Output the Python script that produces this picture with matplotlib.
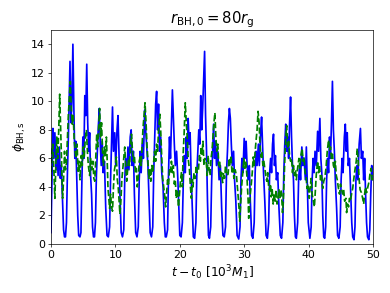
import matplotlib
matplotlib.use("Agg")
import matplotlib.pyplot as plt

# ---- data ----
blue_t = [0.0, 0.15, 0.3, 0.45, 0.6, 0.8, 0.95, 1.1, 1.3, 1.45, 1.6, 1.8, 1.95, 2.1, 2.25,
          2.4, 2.55, 2.7, 2.85, 2.95, 3.1, 3.25, 3.4, 3.55, 3.7, 3.85, 4.0, 4.15, 4.3, 4.5,
          4.65, 4.8, 4.95, 5.1, 5.25, 5.4, 5.55, 5.7, 5.85, 6.0, 6.15, 6.3, 6.45, 6.6, 6.75,
          6.9, 7.05, 7.2, 7.35, 7.5, 7.65, 7.8, 7.95, 8.1, 8.3, 8.5, 8.7, 8.9,
          9.1, 9.25, 9.4, 9.55, 9.7, 9.9, 10.05, 10.25, 10.4, 10.55, 10.7, 10.9, 11.1,
          11.3, 11.45, 11.6, 11.8, 11.95, 12.1, 12.3, 12.45, 12.6, 12.8, 12.95, 13.15, 13.35,
          13.55, 13.7, 13.85, 14.0, 14.2, 14.35, 14.55, 14.7, 14.9, 15.05, 15.2, 15.4, 15.6,
          15.8, 15.95, 16.1, 16.25, 16.4, 16.55, 16.7, 16.85, 17.0, 17.2, 17.4, 17.6, 17.75, 17.9,
          18.1, 18.25, 18.4, 18.55, 18.7, 18.85, 19.0, 19.15, 19.3, 19.5, 19.7, 19.85, 20.0, 20.2,
          20.4, 20.55, 20.7, 20.85, 21.0, 21.15, 21.3, 21.45, 21.6, 21.75, 21.95, 22.1, 22.3,
          22.5, 22.65, 22.8, 22.95, 23.1, 23.25, 23.4, 23.55, 23.7, 23.85, 24.0, 24.15, 24.3, 24.45, 24.6,
          24.8, 24.95, 25.1, 25.25, 25.4, 25.55, 25.7, 25.9, 26.1, 26.3, 26.5, 26.7, 26.9,
          27.1, 27.25, 27.4, 27.55, 27.7, 27.85, 28.0, 28.15, 28.35, 28.5, 28.7, 28.9, 29.15,
          29.35, 29.5, 29.65, 29.8, 30.0, 30.15, 30.3, 30.45, 30.6, 30.8, 30.95, 31.15, 31.35,
          31.55, 31.7, 31.85, 32.0, 32.2, 32.35, 32.55, 32.7, 32.85, 33.0, 33.2, 33.4, 33.6,
          33.8, 33.95, 34.1, 34.25, 34.4, 34.55, 34.7, 34.85, 35.0, 35.2, 35.4, 35.6, 35.8,
          36.0, 36.15, 36.3, 36.45, 36.6, 36.75, 36.9, 37.05, 37.2, 37.35, 37.5, 37.65, 37.8, 37.95, 38.1,
          38.3, 38.45, 38.6, 38.75, 38.95, 39.1, 39.3, 39.5, 39.65, 39.8, 39.95, 40.2,
          40.4, 40.55, 40.7, 40.85, 41.0, 41.2, 41.4, 41.55, 41.75, 41.9, 42.05, 42.2, 42.35, 42.5,
          42.65, 42.8, 42.95, 43.1, 43.25, 43.4, 43.55, 43.7, 43.85, 44.0, 44.15, 44.35, 44.5, 44.7,
          44.9, 45.05, 45.2, 45.35, 45.55, 45.7, 45.85, 46.0, 46.15, 46.35, 46.5, 46.7, 46.85, 47.05,
          47.2, 47.35, 47.5, 47.65, 47.85, 48.05, 48.2, 48.4, 48.55, 48.7, 48.85, 49.0, 49.15, 49.35,
          49.5, 49.65, 49.8, 49.9, 50.0]
blue_phi = [0.8, 4.5, 8.1, 6.0, 7.8, 5.2, 6.5, 4.8, 6.8, 4.6, 5.5, 3.0, 1.0, 0.5, 0.5,
            1.5, 5.0, 7.5, 10.5, 12.8, 8.5, 10.0, 14.0, 9.5, 6.0, 7.2, 4.5, 2.0, 0.6, 0.5,
            0.8, 4.5, 7.5, 6.0, 10.4, 9.0, 12.6, 8.5, 6.5, 7.8, 4.8, 3.5, 1.2, 0.5, 0.5,
            1.5, 4.8, 6.5, 8.2, 9.5, 7.0, 5.5, 7.2, 5.0, 5.8, 2.5, 0.6, 0.5,
            1.2, 4.5, 7.0, 9.6, 6.5, 7.8, 5.5, 8.0, 9.0, 6.5, 3.5, 0.8, 0.5,
            1.0, 4.5, 6.0, 5.0, 6.8, 5.2, 7.5, 8.0, 5.5, 6.5, 3.5, 0.8, 0.5,
            1.2, 4.5, 6.5, 5.0, 7.0, 6.0, 9.4, 8.0, 6.5, 5.5, 3.5, 0.8, 0.5,
            1.2, 5.0, 7.5, 9.8, 10.7, 8.0, 9.8, 6.5, 7.5, 5.0, 4.0, 1.5, 0.5, 0.5,
            1.0, 5.0, 7.5, 6.0, 8.5, 10.8, 8.8, 7.0, 5.5, 6.5, 4.5, 2.5, 0.6, 0.5,
            1.5, 4.5, 6.2, 5.0, 7.5, 6.0, 8.8, 7.0, 7.8, 5.0, 2.5, 0.5, 0.4,
            1.5, 5.0, 6.5, 8.0, 7.0, 10.4, 8.0, 9.5, 11.5, 13.5, 9.0, 6.5, 3.0, 0.6, 0.4,
            1.2, 4.5, 6.5, 8.4, 6.0, 7.2, 5.5, 6.5, 4.5, 5.5, 2.5, 0.6, 0.5,
            1.2, 5.0, 6.5, 8.5, 9.5, 8.8, 7.0, 5.5, 6.5, 4.5, 3.0, 0.6, 0.35,
            1.2, 4.5, 6.0, 5.0, 7.4, 6.0, 7.2, 5.5, 4.5, 5.5, 3.0, 0.6, 0.4,
            1.5, 5.0, 6.5, 5.5, 7.0, 5.5, 7.8, 8.9, 7.0, 5.0, 3.0, 0.6, 0.4,
            1.5, 5.0, 6.0, 5.0, 7.0, 7.7, 5.5, 6.2, 4.5, 5.0, 2.5, 0.6, 0.4,
            1.5, 5.0, 7.0, 8.4, 6.5, 7.5, 6.0, 8.5, 10.3, 7.5, 5.5, 4.5, 2.0, 0.5, 0.4,
            1.5, 4.5, 5.5, 4.5, 6.8, 5.5, 6.0, 4.5, 6.8, 4.0, 1.5, 0.4,
            1.2, 4.5, 6.0, 5.0, 6.5, 5.5, 7.9, 6.5, 8.8, 6.0, 5.0, 2.0, 0.5, 0.4,
            1.2, 4.5, 6.0, 5.0, 7.5, 6.0, 8.5, 11.4, 8.0, 6.5, 4.5, 2.5, 0.6, 0.4,
            1.2, 4.5, 6.0, 5.0, 7.5, 8.4, 6.5, 7.8, 5.5, 6.0, 4.0, 1.5, 0.5, 0.3,
            1.2, 4.5, 5.5, 4.5, 7.0, 8.1, 6.0, 6.5, 4.5, 6.0, 3.5, 1.5, 0.5, 0.3,
            1.0, 3.5, 5.5, 4.5, 5.0]

green_t = [0.0, 0.15, 0.3, 0.45, 0.6, 0.75, 0.9, 1.05, 1.2, 1.35, 1.5, 1.65, 1.8, 1.95, 2.1, 2.25,
           2.4, 2.55, 2.7, 2.85, 3.0, 3.15, 3.3, 3.45, 3.6, 3.75, 3.9, 4.05, 4.2, 4.35, 4.5,
           4.7, 4.85, 5.0, 5.15, 5.3, 5.5, 5.65, 5.8, 6.0, 6.15, 6.3, 6.5, 6.65, 6.8, 6.95,
           7.1, 7.25, 7.4, 7.55, 7.7, 7.85, 8.0, 8.15, 8.3, 8.45, 8.6, 8.75, 8.85, 9.0, 9.1,
           9.25, 9.4, 9.55, 9.7, 9.85, 10.0, 10.15, 10.3, 10.45, 10.6, 10.7, 10.85, 11.0, 11.2,
           11.35, 11.45, 11.6, 11.75, 11.9, 12.05, 12.2, 12.35, 12.5, 12.65, 12.8, 12.95, 13.1,
           13.25, 13.4, 13.55, 13.7, 13.85, 14.0, 14.15, 14.3, 14.45, 14.6, 14.75, 14.9, 15.05,
           15.2, 15.35, 15.5, 15.65, 15.8, 15.95, 16.1, 16.25, 16.4, 16.55, 16.7, 16.9, 17.05,
           17.2, 17.35, 17.5, 17.65, 17.8, 17.95, 18.1, 18.25, 18.4, 18.55, 18.7, 18.85, 19.0,
           19.15, 19.3, 19.45, 19.6, 19.8, 19.95, 20.1, 20.25, 20.4, 20.5, 20.65, 20.85, 21.0,
           21.15, 21.3, 21.5, 21.65, 21.8, 21.95, 22.05, 22.2, 22.4, 22.55, 22.7, 22.9, 23.05,
           23.2, 23.3, 23.45, 23.6, 23.75, 23.9, 24.1, 24.25, 24.4, 24.55, 24.7, 24.85, 25.0,
           25.15, 25.3, 25.45, 25.6, 25.75, 25.9, 26.05, 26.2, 26.35, 26.5, 26.65, 26.8, 26.95,
           27.1, 27.3, 27.5, 27.65, 27.8, 27.95, 28.1, 28.25, 28.4, 28.6, 28.8, 28.95, 29.05,
           29.2, 29.3, 29.45, 29.6, 29.8, 29.95, 30.1, 30.25, 30.4, 30.5, 30.6, 30.7, 30.8,
           30.95, 31.1, 31.25, 31.4, 31.55, 31.7, 31.85, 32.0, 32.15, 32.3, 32.45, 32.6, 32.75,
           32.9, 33.05, 33.2, 33.35, 33.5, 33.65, 33.8, 33.95, 34.1, 34.2, 34.35, 34.5, 34.65,
           34.8, 34.95, 35.1, 35.25, 35.4, 35.55, 35.7, 35.8, 35.95, 36.05, 36.2, 36.35, 36.5,
           36.6, 36.75, 36.9, 37.05, 37.2, 37.35, 37.5, 37.65, 37.8, 37.95, 38.1, 38.2, 38.35,
           38.5, 38.65, 38.8, 39.0, 39.15, 39.3, 39.45, 39.6, 39.75, 39.9, 40.1, 40.25, 40.4,
           40.55, 40.75, 40.9, 41.05, 41.2, 41.4, 41.55, 41.7, 41.85, 42.0, 42.2, 42.35, 42.5,
           42.7, 42.9, 43.1, 43.25, 43.4, 43.55, 43.7, 43.85, 44.0, 44.15, 44.3, 44.45, 44.6,
           44.8, 44.95, 45.1, 45.3, 45.45, 45.6, 45.8, 45.9, 46.05, 46.2, 46.35, 46.5, 46.7,
           46.85, 47.0, 47.2, 47.4, 47.55, 47.7, 47.85, 48.0, 48.2, 48.4, 48.55, 48.7, 48.85,
           49.0, 49.2, 49.4, 49.55, 49.7, 49.85, 50.0]
green_phi = [4.4, 6.5, 7.0, 5.0, 3.2, 5.5, 7.5, 6.0, 8.0, 10.5, 8.0, 5.5, 3.2, 4.5, 6.5, 5.2,
             5.7, 7.5, 9.1, 10.2, 11.4, 9.5, 8.4, 9.0, 7.3, 6.5, 6.0, 7.0, 5.1, 5.8, 4.5,
             6.2, 5.5, 6.8, 6.0, 7.2, 8.0, 6.5, 5.5, 4.8, 6.0, 5.2, 5.8, 4.6, 4.4, 6.0,
             7.7, 6.8, 8.2, 9.5, 7.5, 8.5, 6.5, 5.5, 6.8, 6.2, 7.5, 5.5, 3.9, 3.0, 2.5,
             3.5, 2.6, 2.3, 4.0, 5.2, 5.6, 6.1, 4.5, 3.9, 2.8, 2.1, 3.0, 4.5, 5.5,
             6.2, 6.8, 5.5, 4.4, 5.2, 6.0, 5.5, 7.0, 7.7, 6.5, 5.8, 6.2, 5.0,
             5.3, 4.0, 4.6, 5.8, 6.1, 5.5, 7.0, 8.2, 9.0, 9.9, 8.6, 7.0, 5.8,
             4.6, 5.2, 4.4, 5.5, 5.0, 5.8, 6.5, 5.8, 7.0, 6.5, 8.0, 9.1, 7.8,
             6.0, 4.6, 4.0, 3.4, 2.6, 3.5, 4.5, 4.2, 5.2, 5.0, 5.8, 5.0, 5.5,
             4.2, 4.5, 3.2, 3.8, 2.6, 3.5, 4.4, 5.0, 4.0, 6.1, 7.5, 9.9, 8.6,
             7.5, 6.0, 5.2, 4.0, 3.2, 4.5, 4.0, 5.0, 4.6, 5.5, 5.0, 5.2, 6.2,
             5.8, 6.8, 6.3, 7.2, 5.5, 6.0, 5.8, 4.8, 6.2, 5.2, 4.8, 6.0, 6.5,
             7.5, 8.5, 9.2, 7.5, 6.5, 7.0, 5.5, 5.8, 4.6, 5.0, 4.3, 5.0, 4.6,
             5.5, 4.8, 4.9, 6.0, 5.5, 6.2, 5.0, 5.3, 4.6, 5.2, 4.8, 4.0, 3.4,
             2.5, 1.6, 2.8, 4.0, 5.1, 6.0, 5.3, 5.8, 4.9, 4.0, 3.2, 1.8, 2.6,
             3.5, 4.2, 5.0, 6.1, 5.5, 6.5, 7.3, 8.0, 9.3, 8.6, 7.0, 6.1, 6.5,
             5.5, 5.8, 5.3, 4.8, 4.4, 5.0, 4.0, 3.8, 4.2, 3.3, 3.8, 2.8, 3.5,
             3.0, 3.8, 2.8, 3.1, 3.8, 3.2, 3.8, 3.5, 2.2, 2.8, 4.5, 6.5, 7.8,
             8.3, 6.8, 7.2, 6.2, 5.8, 6.0, 5.0, 5.5, 4.8, 5.2, 4.5, 5.0, 5.5,
             6.0, 5.3, 6.2, 6.7, 5.8, 6.1, 5.0, 4.8, 3.9, 4.2, 3.2, 4.0, 4.6,
             3.5, 3.0, 2.6, 3.8, 4.9, 5.8, 5.0, 5.5, 4.5, 4.8, 3.9, 4.4, 4.6,
             5.3, 6.5, 7.3, 6.6, 6.8, 6.0, 6.3, 5.5, 5.3, 5.8, 4.8, 4.5, 4.0,
             3.5, 4.2, 3.9, 3.5, 3.8, 3.0, 3.2, 2.2, 2.8, 2.6, 3.2, 3.0, 3.6,
             3.9, 4.5, 5.2, 5.8, 6.7, 5.8, 4.5, 3.8, 3.6, 3.2, 2.8, 3.5, 4.0,
             3.6, 4.0, 4.4, 5.0, 5.3, 4.5, 4.8]

x_ticks = [0, 10, 20, 30, 40, 50]
y_ticks = [0, 2, 4, 6, 8, 10, 12, 14]

# ---- figure ----
fig = plt.figure(figsize=(390 / 61, 293 / 61), dpi=61)
ax = fig.add_axes([51 / 390, 1 - 244 / 293, (373 - 51) / 390, (244 - 30) / 293])

ax.plot(blue_t, blue_phi, color="blue", lw=2, solid_joinstyle="round")
ax.plot(green_t, green_phi, color="green", lw=2, ls="--")

ax.set_xlim(0, 50)
ax.set_ylim(0, 15)
ax.set_xticks(x_ticks)
ax.set_yticks(y_ticks)
ax.tick_params(labelsize=13)
ax.set_xlabel(r"$t-t_0\ [10^3M_1]$", fontsize=14.5)
ax.set_ylabel(r"$\phi_{\rm BH,s}$", fontsize=14.5)
ax.set_title(r"$r_{\rm BH,0}=80r_{\rm g}$", fontsize=17.5)

fig.savefig("out.png", dpi=61)
